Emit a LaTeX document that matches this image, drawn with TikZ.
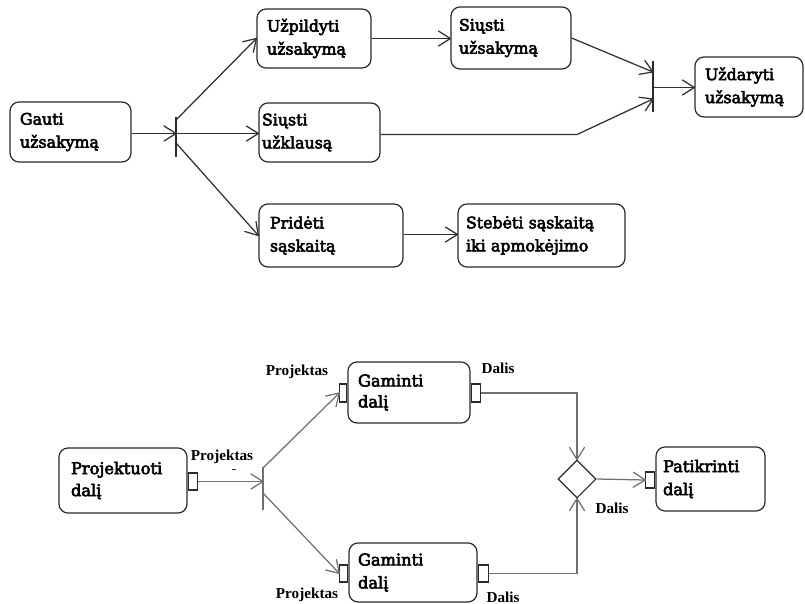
\documentclass[tikz,border=0pt]{standalone}
\usepackage{fontspec}
\setmainfont{DejaVu Serif}[FakeBold=3.5]
\newfontfamily\lblfont{Liberation Serif}
\usetikzlibrary{arrows.meta,shapes.geometric}
\definecolor{edge}{HTML}{2A2A2A}
\definecolor{flowA}{HTML}{303030}
\definecolor{flowB}{HTML}{707070}

% open V arrow tip made of two straight strokes
\pgfdeclarearrow{
  name = OpenVee,
  parameters = {\the\pgfarrowlength,\the\pgfarrowwidth},
  setup code = {
    \pgfarrowssettipend{0pt}
    \pgfarrowssetlineend{0pt}
    \pgfarrowssetbackend{-\pgfarrowlength}
    \pgfarrowshullpoint{0pt}{0pt}
    \pgfarrowsupperhullpoint{-\pgfarrowlength}{0.5\pgfarrowwidth}
    \pgfarrowssavethe\pgfarrowlength
    \pgfarrowssavethe\pgfarrowwidth
  },
  drawing code = {
    \pgfsetdash{}{0pt}
    \pgfsetroundjoin
    \pgfsetroundcap
    \pgfpathmoveto{\pgfqpoint{-\pgfarrowlength}{0.5\pgfarrowwidth}}
    \pgfpathlineto{\pgfqpoint{0pt}{0pt}}
    \pgfpathlineto{\pgfqpoint{-\pgfarrowlength}{-0.5\pgfarrowwidth}}
    \pgfusepathqstroke
  },
  defaults = {length = 12pt, width = 15pt}
}

\begin{document}
\begin{tikzpicture}[x=1pt,y=-1pt,
  act/.style={draw=edge,line width=1.2pt,rounded corners=9pt,rectangle,
    align=left,inner ysep=0pt,font=\fontsize{15.8}{23}\selectfont},
  pin/.style={draw=edge,line width=1.1pt,rectangle,fill=white,inner sep=0pt},
  bar/.style={draw=edge,line width=1.2pt},
  flow/.style={draw=flowA,line width=1.25pt,-{OpenVee[length=12pt,width=15pt]}},
  gflow/.style={draw=flowB,line width=1.25pt,-{OpenVee[length=12pt,width=15pt]}},
  lbl/.style={font=\lblfont\bfseries\fontsize{15.2}{17}\selectfont,inner sep=0pt}]
\useasboundingbox (0,0) rectangle (805,604);

% ---------- order handling ----------
\node[act,minimum width=121pt,minimum height=60pt,inner xsep=10pt,text width=101pt] (gauti) at (70.5,132) {Gauti\\užsakymą};
\node[act,minimum width=114pt,minimum height=59pt,inner xsep=10pt,text width=94pt] (uzp) at (314,38.5) {Užpildyti\\užsakymą};
\node[act,minimum width=121pt,minimum height=59pt,inner xsep=3pt,text width=115pt] (siuk) at (319.5,132.5) {Siųsti\\užklausą};
\node[act,minimum width=144pt,minimum height=63pt,inner xsep=11pt,text width=122pt] (prid) at (331,235.5) {Pridėti\\sąskaitą};
\node[act,minimum width=120pt,minimum height=62pt,inner xsep=8pt,text width=104pt] (siuz) at (511,38) {Siųsti\\užsakymą};
\node[act,minimum width=108pt,minimum height=60pt,inner xsep=10pt,text width=88pt] (uzd) at (749,87) {Uždaryti\\užsakymą};
\node[act,minimum width=167pt,minimum height=63pt,inner xsep=8pt,text width=151pt] (steb) at (541.5,235.5) {Stebėti sąskaitą\\iki apmokėjimo};

% fork and join bars
\coordinate (forkT) at (176,117);
\coordinate (forkB) at (176,157);
\coordinate (joinT) at (653,61);
\coordinate (joinB) at (653,112);
\draw[bar] (forkT) -- (forkB);
\draw[bar] (joinT) -- (joinB);

\coordinate (fIn) at (176,133.5);
\coordinate (fA) at (176,120);
\coordinate (fC) at (176,143);
\coordinate (jA) at (653,72);
\coordinate (jB) at (653,99);
\coordinate (jOut) at (653,87.5);
\coordinate (kink) at (577,134.5);

\draw[flow] (gauti.east |- fIn) -- (fIn);
\draw[flow] (fA) -- (uzp.west);
\draw[flow] (fIn) -- (siuk.west |- fIn);
\draw[flow] (fC) -- (prid.west);
\draw[flow] (uzp.east) -- (siuz.west |- uzp.east);
\draw[flow] (siuz.east) -- (jA);
\draw[flow] (siuk.east |- kink) -- (kink) -- (jB);
\draw[flow] (jOut) -- (uzd.west |- jOut);
\draw[flow] (prid.east |- 0,234.5) -- (steb.west |- 0,234.5);

% ---------- part production ----------
\node[act,minimum width=128pt,minimum height=65pt,inner xsep=12pt,text width=104pt,font=\fontsize{16.2}{22}\selectfont] (proj) at (123,480.5) {Projektuoti\\dalį};
\node[act,minimum width=122pt,minimum height=61pt,inner xsep=10pt,text width=102pt,font=\fontsize{16.2}{21}\selectfont] (g1) at (409,392.5) {Gaminti\\dalį};
\node[act,minimum width=128pt,minimum height=59pt,inner xsep=9pt,text width=110pt,font=\fontsize{16.2}{23}\selectfont] (g2) at (413,572.5) {Gaminti\\dalį};
\node[act,minimum width=109pt,minimum height=64pt,inner xsep=7pt,text width=95pt,font=\fontsize{16.2}{23}\selectfont] (pat) at (710.5,479) {Patikrinti\\dalį};

\node[pin,minimum width=9pt,minimum height=17pt,anchor=west] (projOut) at (proj.east |- 0,481.5) {};
\node[pin,minimum width=7pt,minimum height=18pt,anchor=east] (g1In) at (g1.west |- 0,393) {};
\node[pin,minimum width=9pt,minimum height=18pt,anchor=west] (g1Out) at (g1.east |- 0,393) {};
\node[pin,minimum width=8pt,minimum height=17pt,anchor=east] (g2In) at (g2.west |- 0,573.5) {};
\node[pin,minimum width=10pt,minimum height=17pt,anchor=west] (g2Out) at (g2.east |- 0,573.5) {};
\node[pin,minimum width=9pt,minimum height=16pt,anchor=east] (patIn) at (pat.west |- 0,480) {};

\node[diamond,draw=edge,line width=1.1pt,minimum width=38pt,minimum height=38pt,inner sep=0pt] (merge) at (577,479) {};

\coordinate (f2T) at (263,467);
\coordinate (f2B) at (263,510);
\draw[bar,draw=flowB] (f2T) -- (f2B);
\coordinate (f2In) at (263,481.5);
\coordinate (f2A) at (263,468);
\coordinate (f2C) at (263,493);

\draw[gflow] (projOut.east) -- (f2In);
\draw[gflow] (f2A) -- (g1In.west);
\draw[gflow] (f2C) -- (g2In.west);
\draw[gflow] (g1Out.east) -- (merge.north |- g1Out.east) -- (merge.north);
\draw[gflow] (g2Out.east) -- (merge.south |- g2Out.east) -- (merge.south);
\draw[gflow] (merge.east) -- (patIn.west);

% object flow labels
\node[lbl] (pA) at (297,372) {Projektas};
\node[lbl] (pB) at (222,457) {Projektas};
\node[lbl] (pC) at (307,595) {Projektas};
\node[lbl] (dA) at (498,368) {Dalis};
\node[lbl] (dB) at (612,508) {Dalis};
\node[lbl] (dC) at (503,597) {Dalis};
\draw[edge,line width=0.9pt] ([xshift=10pt,yshift=-5pt]pB.south) -- ++(4,0);
\end{tikzpicture}
\end{document}
